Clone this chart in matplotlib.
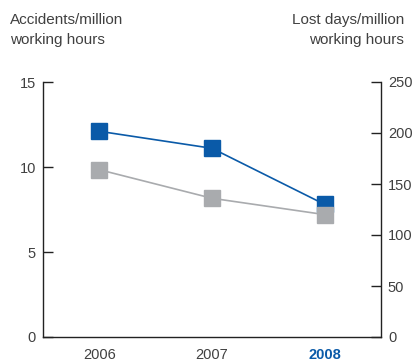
import matplotlib.pyplot as plt

years = ['2006', '2007', '2008']
accidents = [12.1, 11.1, 7.8]      # left axis, blue
lost_days = [164, 136, 120]        # right axis, grey

blue = '#0a5aa8'
grey = '#a9abae'
text_col = '#404040'

plt.rcParams['font.family'] = ['Liberation Sans', 'DejaVu Sans']

fig = plt.figure(figsize=(4.15, 3.63), dpi=100)
ax = fig.add_axes([43 / 415, 1 - 337 / 363, (381 - 43) / 415, (337 - 82) / 363])
ax2 = ax.twinx()

x = list(range(len(years)))
ax.plot(x, accidents, color=blue, lw=1.2, marker='s', ms=12, mec=blue, mfc=blue, clip_on=False)
ax2.plot(x, lost_days, color=grey, lw=1.2, marker='s', ms=12, mec=grey, mfc=grey, clip_on=False)

ax.set_xlim(-0.5, 2.5)
ax.set_ylim(0, 15)
ax2.set_ylim(0, 250)
ax.set_yticks([0, 5, 10, 15])
ax2.set_yticks([0, 50, 100, 150, 200, 250])
ax.set_xticks(x)
ax.set_xticklabels(years)

for a in (ax, ax2):
    a.spines['top'].set_visible(False)
    for s in a.spines.values():
        s.set_color('#222222')
        s.set_linewidth(1.0)
ax.spines['right'].set_visible(False)
ax2.spines['left'].set_visible(False)
ax2.spines['bottom'].set_visible(False)

ax.tick_params(axis='y', direction='in', length=7, width=1, color='#222222',
               labelsize=10.5, labelcolor=text_col, pad=5)
ax2.tick_params(axis='y', direction='in', length=7, width=1, color='#222222',
                labelsize=10.5, labelcolor=text_col, pad=5)
ax.tick_params(axis='x', length=0, labelsize=10.5, labelcolor=text_col, pad=8)

lbl = ax.get_xticklabels()[-1]
lbl.set_color(blue)
lbl.set_fontweight('bold')

fig.text(10 / 415, 1 - 13 / 363, 'Accidents/million\nworking hours', ha='left', va='top',
         fontsize=11, color=text_col, linespacing=1.55)
fig.text(404 / 415, 1 - 13 / 363, 'Lost days/million\nworking hours', ha='right', va='top',
         fontsize=11, color=text_col, linespacing=1.55)

fig.savefig('out.png', dpi=100)
